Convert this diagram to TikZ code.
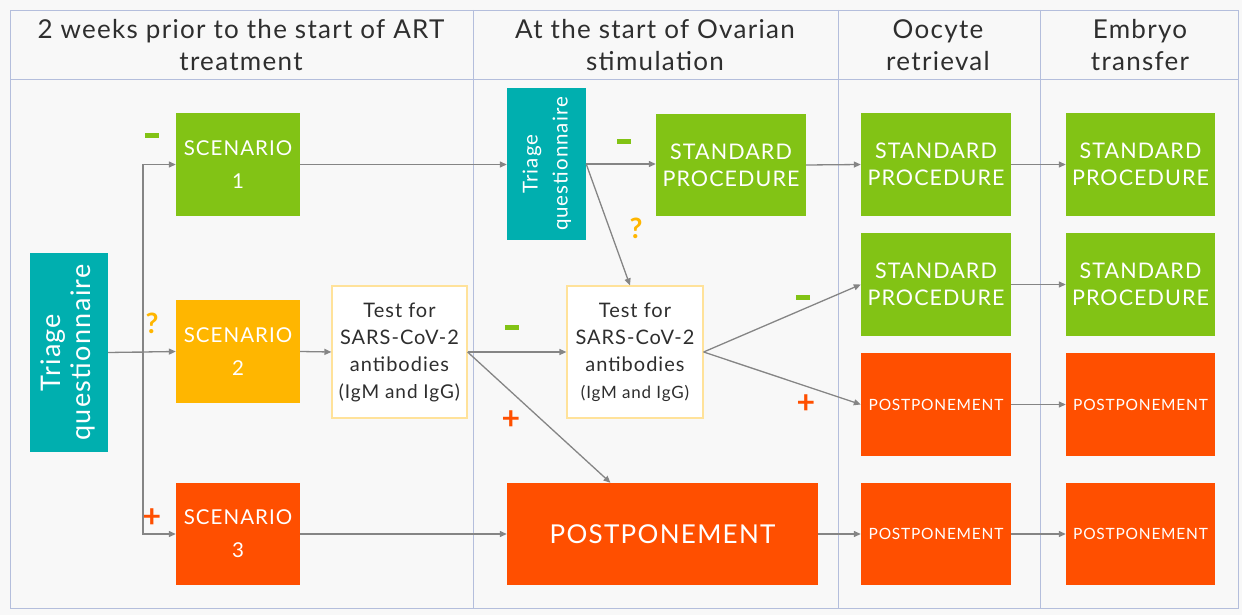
\documentclass[tikz,border=0pt]{standalone}
\usepackage{fontspec}
\setmainfont{Lato}[LetterSpace=5]
\usetikzlibrary{arrows.meta,calc}
\definecolor{tealq}{HTML}{00AFAF}
\definecolor{greenok}{HTML}{82C315}
\definecolor{amberq}{HTML}{FFB600}
\definecolor{redpos}{HTML}{FF4F00}
\definecolor{testline}{HTML}{FFE29A}
\definecolor{gridline}{HTML}{B4BEDC}
\definecolor{arrowgrey}{HTML}{858585}
\definecolor{textdark}{HTML}{2E2E2E}
\definecolor{paper}{HTML}{F8F8F8}
\begin{document}
\begin{tikzpicture}[x=1pt, y=-1pt,
  box/.style={rectangle, inner sep=0pt, align=center, text=white},
  tq/.style={box, fill=tealq},
  ok/.style={box, fill=greenok},
  unsure/.style={box, fill=amberq},
  positive/.style={box, fill=redpos},
  test/.style={box, draw=testline, line width=1.2pt, fill=white, text=textdark, minimum width=135, minimum height=132, font=\fontsize{20}{27}\selectfont},
  head/.style={align=center, text=textdark, font=\fontsize{26}{32}\selectfont},
  sign/.style={inner sep=0pt, font=\fontsize{28}{28}\selectfont\bfseries},
  plus/.style={inner sep=0pt, text=redpos, font=\fontsize{32}{32}\selectfont\bfseries},
  arr/.style={draw=arrowgrey, line width=1.3pt, -{Triangle[length=7pt,width=6pt]}},
  link/.style={draw=arrowgrey, line width=1.3pt}]
\useasboundingbox (0,0) rectangle (1242,615);
\fill[paper] (0,0) rectangle (1242,615);
\draw[gridline, line width=0.8pt] (10,10) rectangle (1238,608);
\draw[gridline, line width=0.8pt] (10,79) -- (1238,79);
\draw[gridline, line width=0.8pt] (473,10) -- (473,608);
\draw[gridline, line width=0.8pt] (838,10) -- (838,608);
\draw[gridline, line width=0.8pt] (1040,10) -- (1040,608);
% column headings
\node[head] (H1) at (241,45) {2 weeks prior to the start of ART\\treatment};
\node[head] (H2) at (655,45) {At the start of Ovarian\\stimulation};
\node[head] (H3) at (938,45) {Oocyte\\retrieval};
\node[head] (H4) at (1140,45) {Embryo\\transfer};
% first column
\node[tq, minimum width=78, minimum height=199] (TQ1) at (69,352.5) {\rotatebox{90}{\fontsize{27}{30}\selectfont\begin{tabular}{@{}c@{}}Triage\\questionnaire\end{tabular}}};
\node[ok, minimum width=124, minimum height=103, font=\fontsize{20.5}{33}\selectfont] (S1) at (238,164.5) {SCENARIO\\1};
\node[unsure, minimum width=124, minimum height=103, font=\fontsize{20.5}{33}\selectfont] (S2) at (238,351.5) {SCENARIO\\2};
\node[positive, minimum width=124, minimum height=102, font=\fontsize{20.5}{33}\selectfont] (S3) at (238,534) {SCENARIO\\3};
\node[test] (T1) at (399.5,352) {Test for\\SARS-CoV-2\\antibodies\\{\fontsize{19}{27}\selectfont (IgM and IgG)}};
% second column
\node[tq, minimum width=79, minimum height=152] (TQ2) at (546.5,164) {\rotatebox{90}{\fontsize{20.5}{30}\selectfont\begin{tabular}{@{}c@{}}Triage\\questionnaire\end{tabular}}};
\node[ok, minimum width=150, minimum height=102, font=\fontsize{21.5}{27}\selectfont] (SP0) at (731,165) {STANDARD\\PROCEDURE};
\node[test, minimum width=136] (T2) at (635,352) {Test for\\SARS-CoV-2\\antibodies\\{\fontsize{17}{27}\selectfont (IgM and IgG)}};
\node[positive, minimum width=311, minimum height=102, font=\fontsize{26}{27}\selectfont] (PB) at (662.5,534) {POSTPONEMENT};
% oocyte retrieval
\node[ok, minimum width=150, minimum height=103, font=\fontsize{21.5}{27}\selectfont] (SP1) at (936,164.5) {STANDARD\\PROCEDURE};
\node[ok, minimum width=150, minimum height=103, font=\fontsize{21.5}{27}\selectfont] (SP2) at (936,284.5) {STANDARD\\PROCEDURE};
\node[positive, minimum width=150, minimum height=103, font=\fontsize{15.5}{16}\selectfont] (P1) at (936,404.5) {POSTPONEMENT};
\node[positive, minimum width=150, minimum height=102, font=\fontsize{15.5}{16}\selectfont] (P2) at (936,534) {POSTPONEMENT};
% embryo transfer
\node[ok, minimum width=149, minimum height=103, font=\fontsize{21.5}{27}\selectfont] (SP3) at (1140.5,164.5) {STANDARD\\PROCEDURE};
\node[ok, minimum width=149, minimum height=103, font=\fontsize{21.5}{27}\selectfont] (SP4) at (1140.5,284.5) {STANDARD\\PROCEDURE};
\node[positive, minimum width=149, minimum height=103, font=\fontsize{15.5}{16}\selectfont] (P3) at (1140.5,404.5) {POSTPONEMENT};
\node[positive, minimum width=149, minimum height=102, font=\fontsize{15.5}{16}\selectfont] (P4) at (1140.5,534) {POSTPONEMENT};
% result signs
\node[text=greenok, inner sep=0pt] (M1) at (152,136) {\rule{14pt}{5pt}};
\node[sign, text=amberq] (Q1) at (152,323) {?};
\node[plus] (P1s) at (152,518) {+};
\node[text=greenok, inner sep=0pt] (M2) at (624,142) {\rule{14pt}{5pt}};
\node[sign, text=amberq] (Q2) at (636,228) {?};
\node[text=greenok, inner sep=0pt] (M3) at (512,327) {\rule{14pt}{5pt}};
\node[plus] (P2s) at (511,420) {+};
\node[text=greenok, inner sep=0pt] (M4) at (803,297) {\rule{14pt}{5pt}};
\node[plus] (P3s) at (806,404) {+};
% connectors
\coordinate (B) at (143,352.5);
\draw[link] (TQ1.east) -- (B);
\draw[arr] (TQ1.east) -- (S2.west);
\draw[arr] (B) |- (S1.west);
\draw[arr] (B) |- (S3.west);
\draw[arr] (S1.east) -- (TQ2.west |- S1.east);
\draw[arr] (S2.east) -- (T1.west);
\draw[arr] (S3.east) -- (PB.west);
\draw[arr] (TQ2.east) -- (SP0.west |- TQ2.east);
\draw[arr] (TQ2.east) -- ($(T2.north)+(-5,0)$);
\draw[arr] (T1.east) -- (T2.west);
\draw[arr] (T1.east) -- ($(PB.north)+(-52,0)$);
\draw[arr] (T2.east) -- (SP2.west);
\draw[arr] (T2.east) -- (P1.west);
\draw[arr] (SP0.east) -- (SP1.west);
\draw[arr] (PB.east) -- (P2.west);
\draw[arr] (SP1.east) -- (SP3.west);
\draw[arr] (SP2.east) -- (SP4.west);
\draw[arr] (P1.east) -- (P3.west);
\draw[arr] (P2.east) -- (P4.west);
\end{tikzpicture}
\end{document}
